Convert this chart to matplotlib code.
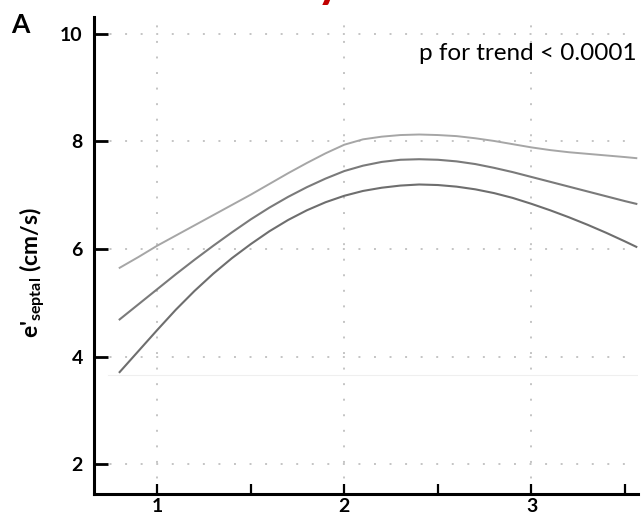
import matplotlib
matplotlib.use("Agg")
import matplotlib.pyplot as plt
from matplotlib.ticker import FixedLocator

plt.rcParams['font.family'] = ['Lato', 'DejaVu Sans']
plt.rcParams['mathtext.fontset'] = 'custom'
plt.rcParams['mathtext.rm'] = 'Lato'
plt.rcParams['mathtext.bf'] = 'Lato:bold'

# Restricted cubic spline estimate of septal e' with 95% CI
x = [0.8, 0.9, 1.0, 1.1, 1.2, 1.3, 1.4, 1.5, 1.6, 1.7, 1.8, 1.9, 2.0, 2.1, 2.2,
     2.3, 2.4, 2.5, 2.6, 2.7, 2.8, 2.9, 3.0, 3.1, 3.2, 3.3, 3.4, 3.5, 3.56]
estimate = [4.69, 4.97, 5.25, 5.53, 5.80, 6.06, 6.31, 6.55, 6.77, 6.97, 7.15,
            7.31, 7.45, 7.55, 7.62, 7.66, 7.67, 7.66, 7.63, 7.58, 7.51, 7.43,
            7.34, 7.25, 7.16, 7.07, 6.98, 6.89, 6.84]
ci_lower = [3.71, 4.10, 4.49, 4.87, 5.22, 5.54, 5.83, 6.09, 6.33, 6.54, 6.72,
            6.87, 6.99, 7.08, 7.14, 7.18, 7.20, 7.19, 7.16, 7.11, 7.04, 6.95,
            6.84, 6.72, 6.59, 6.45, 6.30, 6.14, 6.04]
ci_upper = [5.65, 5.85, 6.06, 6.25, 6.44, 6.63, 6.82, 7.01, 7.21, 7.41, 7.60,
            7.78, 7.94, 8.04, 8.09, 8.12, 8.13, 8.12, 8.10, 8.06, 8.01, 7.95,
            7.89, 7.84, 7.80, 7.77, 7.74, 7.71, 7.69]

y_ticks = [2, 4, 6, 8, 10]
x_ticks = [1, 2, 3]
x_minor = [1.5, 2.5, 3.5]

W, H = 643, 515
fig = plt.figure(figsize=(W / 100, H / 100), dpi=100)
left, right, bottom, top = 94, 638, 494, 17
ax = fig.add_axes([left / W, 1 - bottom / H, (right - left) / W, (bottom - top) / H])
ax.set_xlim(0.663, 3.569)
ax.set_ylim(1.442, 10.316)

# dotted grid
for yv in y_ticks:
    ax.axhline(yv, color='#c4c4c4', lw=1.4, ls=(0, (1, 7)), zorder=1)
for xv in x_ticks:
    ax.axvline(xv, color='#c4c4c4', lw=1.4, ls=(0, (1, 7)), zorder=1)
ax.axhline(3.65, xmin=(108 - left) / (right - left), color='#efefef', lw=0.8, zorder=1)

ax.plot(x, ci_upper, color='#a6a6a6', lw=1.4, zorder=3, solid_joinstyle='round')
ax.plot(x, estimate, color='#7a7a7a', lw=1.5, zorder=3, solid_joinstyle='round')
ax.plot(x, ci_lower, color='#6e6e6e', lw=1.5, zorder=3, solid_joinstyle='round')

for s in ['top', 'right']:
    ax.spines[s].set_visible(False)
for s in ['left', 'bottom']:
    ax.spines[s].set_linewidth(2.2)
    ax.spines[s].set_color('black')

ax.yaxis.set_major_locator(FixedLocator(y_ticks))
ax.xaxis.set_major_locator(FixedLocator(x_ticks))
ax.xaxis.set_minor_locator(FixedLocator(x_minor))
ax.tick_params(axis='y', direction='in', length=10, width=2, pad=8,
               labelsize=14)
ax.tick_params(axis='x', which='both', direction='in', length=7, width=1.6,
               pad=3, labelsize=14)
for lab in ax.get_xticklabels() + ax.get_yticklabels():
    lab.set_fontweight('bold')

fig.text(33 / W, 1 - 273 / H, r"e'$_{\mathbf{septal}}$ (cm/s)", rotation=90,
         ha='center', va='center', fontsize=16.5, fontweight='bold')
fig.text(11 / W, 1 - 25 / H, 'A', fontsize=19, fontweight='bold',
         ha='left', va='center')
fig.text(637 / W, 1 - 54 / H, 'p for trend < 0.0001', fontsize=17.5,
         ha='right', va='center')
fig.text(290 / W, 1 + 3 / H, 'dysfunction', fontsize=34, fontweight='bold',
         color='#c00000', ha='left', va='baseline')

fig.savefig('out.png', dpi=100)
